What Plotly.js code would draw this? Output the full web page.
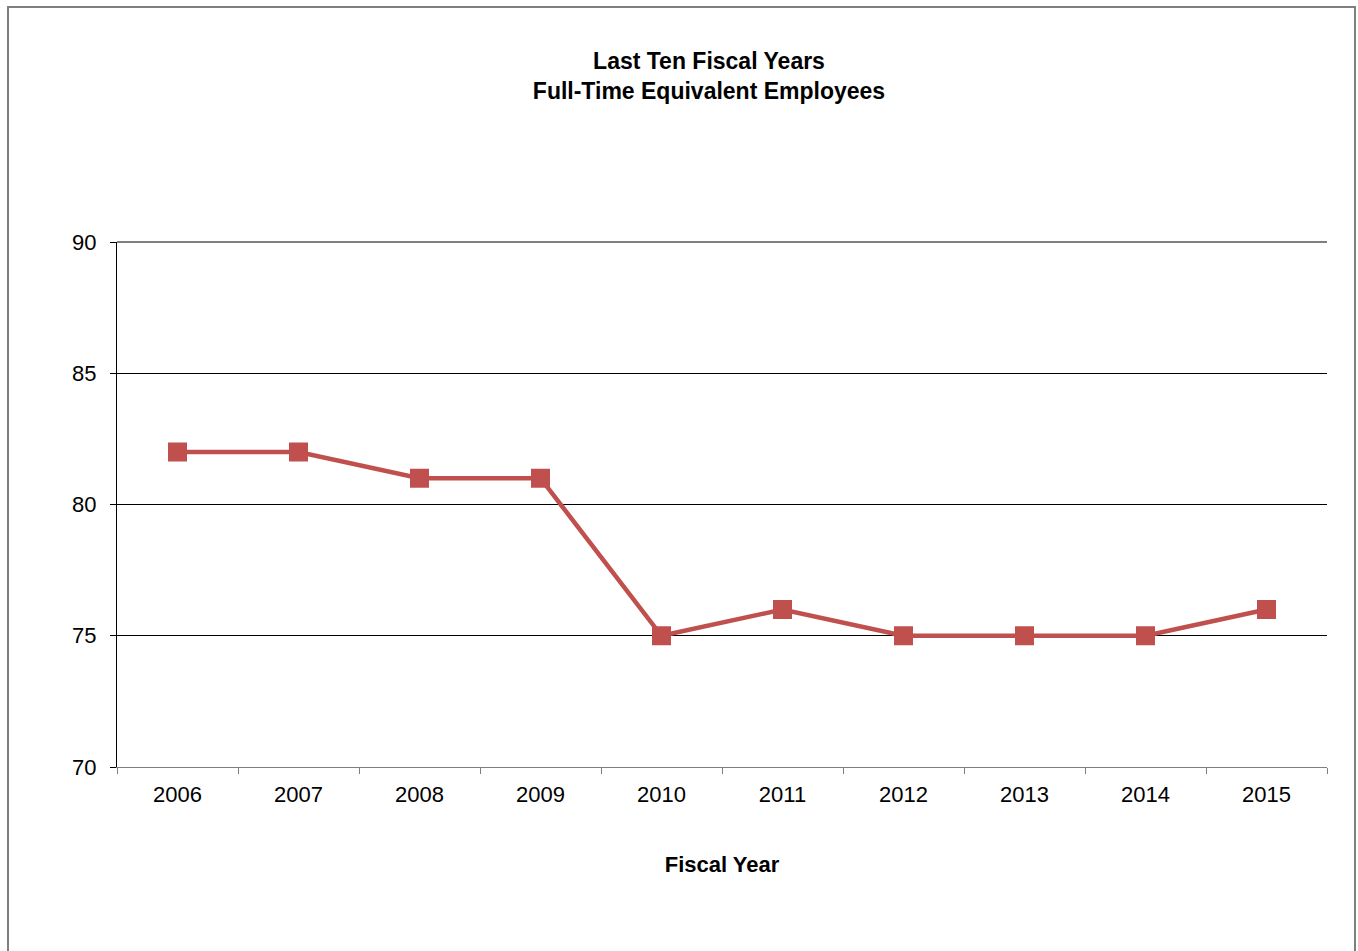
<!DOCTYPE html>
<html>
<head>
<meta charset="utf-8">
<script src="https://cdn.plot.ly/plotly-3.0.1.min.js"></script>
<style>
html,body{margin:0;padding:0;background:#fff;}
#frame{position:absolute;left:7px;top:6px;width:1349px;height:960px;border:2px solid #7f7f7f;border-bottom:none;box-sizing:border-box;}
#chart{position:absolute;left:0;top:0;width:1358px;height:951px;}
</style>
</head>
<body>
<div id="frame"></div>
<div id="chart"></div>
<script>
var years = ["2006","2007","2008","2009","2010","2011","2012","2013","2014","2015"];
var employees = [82, 82, 81, 81, 75, 76, 75, 75, 75, 76];

var trace = {
  x: years,
  y: employees,
  type: "scatter",
  mode: "lines+markers",
  line: {color: "#C0504D", width: 4.5},
  marker: {symbol: "square", size: 19, color: "#C0504D"},
  hoverinfo: "x+y",
  cliponaxis: false
};

var layout = {
  width: 1358,
  height: 951,
  paper_bgcolor: "rgba(0,0,0,0)",
  plot_bgcolor: "rgba(0,0,0,0)",
  margin: {l: 117, r: 31, t: 242, b: 184},
  showlegend: false,
  font: {family: "Liberation Sans, Arial, sans-serif", color: "#000", size: 22},
  title: {
    text: "<b>Last Ten Fiscal Years</b><br><b>Full-Time Equivalent Employees</b>",
    font: {family: "Liberation Sans, Arial, sans-serif", size: 23, color: "#000"},
    x: 709/1358, xanchor: "center", xref: "container",
    y: 1 - 69/951, yanchor: "middle", yref: "container"
  },
  xaxis: {
    type: "category",
    range: [-0.5, 9.5],
    tickson: "boundaries",
    ticks: "outside",
    ticklen: 6,
    tickcolor: "#7f7f7f",
    showline: true,
    linecolor: "#7f7f7f",
    linewidth: 1,
    showgrid: false,
    zeroline: false,
    tickfont: {size: 22},
    ticklabelstandoff: 8,
    title: {text: "<b>Fiscal Year</b>", font: {size: 22}, standoff: 50}
  },
  yaxis: {
    range: [70, 90],
    dtick: 5,
    tick0: 70,
    ticks: "outside",
    ticklen: 6,
    tickcolor: "#000",
    showline: true,
    linecolor: "#000",
    linewidth: 1,
    showgrid: true,
    gridcolor: "#000",
    gridwidth: 1,
    zeroline: false,
    tickfont: {size: 22},
    ticklabelstandoff: 9
  },
  shapes: [{
    type: "line", xref: "paper", yref: "paper",
    x0: 0, x1: 1, y0: 1, y1: 1,
    line: {color: "#000", width: 1}, layer: "below"
  }]
};

Plotly.newPlot("chart", [trace], layout, {displayModeBar: false});
</script>
</body>
</html>
